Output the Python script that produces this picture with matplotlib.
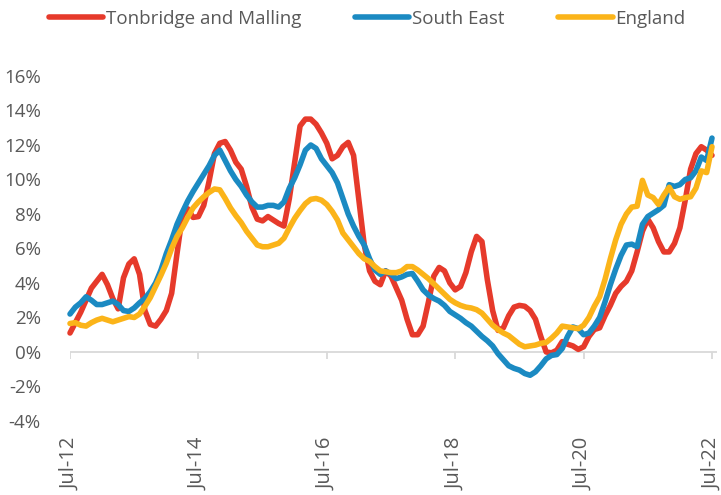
import matplotlib
matplotlib.use("Agg")
import matplotlib.pyplot as plt
from matplotlib.ticker import FuncFormatter

# ---- data ----
tick_labels = ["Jul-12", "Jul-14", "Jul-16", "Jul-18", "Jul-20", "Jul-22"]
tick_months = [0, 24, 48, 72, 96, 120]
series_names = ["Tonbridge and Malling", "South East", "England"]

tonbridge = [
    1.1, 1.7, 2.3, 3.0, 3.7, 4.1, 4.5, 3.9, 3.1, 2.5,
    4.3, 5.1, 5.4, 4.5, 2.4, 1.6, 1.5, 1.9, 2.4, 3.4,
    5.7, 7.9, 8.3, 7.8, 7.85, 8.5, 9.9, 11.5, 12.1, 12.2,
    11.7, 11.0, 10.6, 9.6, 8.4, 7.7, 7.6, 7.85, 7.65, 7.45,
    7.3, 8.9, 11.0, 13.1, 13.5, 13.5, 13.2, 12.7, 12.1, 11.2,
    11.4, 11.9, 12.15, 11.4, 8.8, 6.2, 4.7, 4.1, 3.9, 4.7,
    4.4, 3.7, 3.0, 1.9, 1.0, 1.0, 1.5, 2.9, 4.4, 4.9,
    4.7, 4.0, 3.6, 3.8, 4.6, 5.8, 6.7, 6.4, 4.2, 2.4,
    1.25, 1.4, 2.1, 2.6, 2.7, 2.65, 2.4, 1.9, 0.9, 0.0,
    -0.05, 0.1, 0.6, 0.45, 0.35, 0.15, 0.3, 0.9, 1.3, 1.4,
    2.1, 2.7, 3.4, 3.8, 4.1, 4.7, 5.8, 7.0, 7.7, 7.2,
    6.4, 5.8, 5.8, 6.3, 7.2, 8.8, 10.6, 11.5, 11.9, 11.7,
    11.4,
]

south_east = [
    2.2, 2.6, 2.85, 3.2, 3.0, 2.75, 2.75, 2.85, 2.95, 2.75,
    2.4, 2.35, 2.55, 2.85, 3.1, 3.5, 4.0, 4.75, 5.7, 6.5,
    7.4, 8.1, 8.75, 9.3, 9.8, 10.3, 10.8, 11.4, 11.7, 11.1,
    10.5, 10.0, 9.6, 9.1, 8.7, 8.4, 8.4, 8.5, 8.5, 8.4,
    8.7, 9.5, 10.1, 10.85, 11.7, 12.0, 11.8, 11.2, 10.8, 10.4,
    9.8, 8.9, 8.0, 7.3, 6.7, 6.2, 5.4, 4.75, 4.5, 4.7,
    4.5, 4.25, 4.35, 4.5, 4.55, 4.1, 3.6, 3.3, 3.1, 2.95,
    2.7, 2.35, 2.15, 1.95, 1.7, 1.5, 1.2, 0.9, 0.65, 0.35,
    -0.1, -0.45, -0.8, -0.95, -1.05, -1.25, -1.35, -1.15, -0.8, -0.4,
    -0.2, -0.15, 0.2, 0.9, 1.45, 1.35, 1.0, 1.1, 1.5, 2.0,
    2.9, 3.9, 4.8, 5.6, 6.2, 6.25, 6.1, 7.4, 7.85, 8.05,
    8.25, 8.5, 9.7, 9.6, 9.7, 10.0, 10.1, 10.5, 11.3, 11.1,
    12.4,
]

england = [
    1.65, 1.7, 1.55, 1.5, 1.7, 1.85, 1.95, 1.85, 1.75, 1.85,
    1.95, 2.05, 2.0, 2.2, 2.65, 3.15, 3.8, 4.45, 5.15, 6.0,
    6.7, 7.2, 7.8, 8.35, 8.7, 9.0, 9.25, 9.45, 9.4, 8.9,
    8.35, 7.9, 7.5, 7.0, 6.6, 6.2, 6.1, 6.1, 6.2, 6.3,
    6.6, 7.2, 7.75, 8.2, 8.6, 8.85, 8.9, 8.8, 8.55, 8.15,
    7.65, 6.9, 6.5, 6.1, 5.7, 5.4, 5.25, 4.95, 4.7, 4.65,
    4.6, 4.6, 4.7, 4.95, 4.95, 4.75, 4.5, 4.25, 3.95, 3.65,
    3.35, 3.05, 2.85, 2.7, 2.6, 2.55, 2.45, 2.25, 1.9, 1.55,
    1.3, 1.1, 0.95, 0.7, 0.45, 0.3, 0.35, 0.4, 0.5, 0.55,
    0.8, 1.1, 1.5, 1.45, 1.4, 1.35, 1.55, 2.0, 2.65, 3.2,
    4.2, 5.4, 6.5, 7.4, 8.0, 8.4, 8.45, 9.95, 9.1, 8.95,
    8.55, 9.1, 9.55, 9.0, 8.85, 8.95, 9.0, 9.5, 10.5, 10.4,
    11.9,
]

months = list(range(len(tonbridge)))
y_ticks = [-4, -2, 0, 2, 4, 6, 8, 10, 12, 14, 16]

colors = ["#E63A2B", "#1B8AC2", "#FBB419"]
text_color = "#595959"
axis_color = "#D9D9D9"

plt.rcParams['font.family'] = ['Open Sans', 'DejaVu Sans']

W, H = 721, 495
fig = plt.figure(figsize=(W / 100, H / 100), dpi=100)

# layout in pixels
left_px, right_px = 70, 717.35
top_px, bottom_px = 41.5, 432.0
ax = fig.add_axes([left_px / W, 1 - bottom_px / H,
                   (right_px - left_px) / W, (bottom_px - top_px) / H])

for vals, name, col in zip([tonbridge, south_east, england], series_names, colors):
    ax.plot(months, vals, color=col, lw=4.0, label=name,
            solid_capstyle='round', solid_joinstyle='round', clip_on=False, zorder=3)

ax.set_xlim(0, 121)
ax.set_ylim(-4.64, 18.0)

# zero axis line with tick marks
ax.axhline(0, color=axis_color, lw=1.3, zorder=1)
ax.vlines(tick_months, -0.42, 0, color=axis_color, lw=1.3, zorder=1)

for s in ax.spines.values():
    s.set_visible(False)

ax.set_yticks(y_ticks)
ax.yaxis.set_major_formatter(FuncFormatter(lambda v, p: f"{int(round(v))}%"))
ax.tick_params(axis='y', length=0, pad=21, labelsize=13.5, labelcolor=text_color)

ax.set_xticks(tick_months)
ax.set_xticklabels(tick_labels, rotation=90, va='top', ha='center')
ax.tick_params(axis='x', length=0, pad=4, labelsize=14.5, labelcolor=text_color)

leg = fig.legend(loc='center left', bbox_to_anchor=(49 / W, 1 - 19 / H),
                 ncol=3, frameon=False, fontsize=13.5, handlelength=2.9,
                 handletextpad=0.15, columnspacing=2.85, borderpad=0,
                 borderaxespad=0)
for t in leg.get_texts():
    t.set_color(text_color)

fig.savefig("out.png", dpi=100)
